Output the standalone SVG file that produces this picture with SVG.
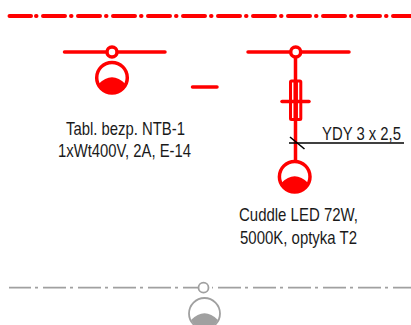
<svg xmlns="http://www.w3.org/2000/svg" width="411" height="325" viewBox="0 0 411 325">
<style>
.r{stroke:#f00;stroke-width:3.5;fill:none;stroke-linecap:round}
.top{stroke-width:4}
.g{stroke:#a0a0a0;stroke-width:1.8;fill:none}
.t{font-family:"Liberation Sans",Arial,sans-serif;font-size:18.5px;fill:#1a1a1a;text-anchor:start}
</style>
<rect width="411" height="325" fill="#fff"/>
<g id="connectors">
<path id="top-line" class="r top" d="M9.500 16H31M36 16H36.500M43 16H65M71 16H71.500M78 16H100M106 16H106.500M113 16H135M141 16H141.500M148 16H170M176 16H176.500M183 16H205M211 16H211.500M218 16H240M246 16H246.500M253 16H275M281 16H281.500M288 16H310M316 16H316.500M323 16H345M351 16H351.500M358 16H380M386 16H386.500M393 16H413"/>
<path id="bottom-line" class="g" d="M9 287.700H31M35 287.700H38M43 287.700H66M70 287.700H73M78 287.700H101M105 287.700H108M113 287.700H136M140 287.700H143M148 287.700H171M175 287.700H178M183 287.700H198M212 287.700H213M218 287.700H241M245 287.700H248M253 287.700H276M280 287.700H283M288 287.700H311M315 287.700H318M323 287.700H346M350 287.700H353M358 287.700H381M385 287.700H388M393 287.700H411"/>
<path class="r" d="M64.500 52H165"/>
<path class="r" d="M248 52H349"/>
<path class="r" stroke-linecap="butt" d="M295.500 52V161"/>
<path class="r" d="M192.500 87H217"/>
<path d="M289 143H404" stroke="#000" stroke-width="1.600" fill="none"/>
<path d="M290 137L304.500 149" stroke="#000" stroke-width="1.600" fill="none"/>
</g>
<g id="node-left">
<circle cx="112" cy="52" r="5" fill="#fff" stroke="#f00" stroke-width="3.500"/>
<circle cx="112" cy="77.700" r="15.300" fill="#fff" stroke="#f00" stroke-width="3.500"/>
<path d="M98.500 84Q112 70.500 125.500 84A15.300 15.300 0 0 1 98.500 84Z" fill="#f00"/>
<text class="t" x="66" y="135" textLength="119" lengthAdjust="spacingAndGlyphs">Tabl. bezp. NTB-1</text>
<text class="t" x="58" y="157" textLength="133" lengthAdjust="spacingAndGlyphs">1xWt400V, 2A, E-14</text>
</g>
<g id="node-right">
<circle cx="295.700" cy="52" r="5" fill="#fff" stroke="#f00" stroke-width="3.500"/>
<rect x="290.500" y="81" width="10.300" height="38.500" rx="1" fill="#fff" stroke="#f00" stroke-width="3"/>
<path d="M295.700 80V120" stroke="#f00" stroke-width="4.500"/>
<path class="r" d="M282 101.500H309"/>
<circle cx="294.700" cy="176.700" r="15.300" fill="#fff" stroke="#f00" stroke-width="3.500"/>
<path d="M281.200 183Q294.700 169.500 308.200 183A15.300 15.300 0 0 1 281.200 183Z" fill="#f00"/>
<text class="t" x="239" y="220.700" textLength="119" lengthAdjust="spacingAndGlyphs">Cuddle LED 72W,</text>
<text class="t" x="240" y="244" textLength="117" lengthAdjust="spacingAndGlyphs">5000K, optyka T2</text>
<text class="t" x="322" y="139.500" textLength="79" lengthAdjust="spacingAndGlyphs">YDY 3 x 2,5</text>
</g>
<g id="node-gray">
<circle cx="203.500" cy="287.700" r="5" fill="#fff" stroke="#a0a0a0" stroke-width="1.800"/>
<circle cx="204.500" cy="313.500" r="15.500" fill="#fff" stroke="#a0a0a0" stroke-width="1.800"/>
<path d="M191 320Q204.500 306.500 218 320A15.500 15.500 0 0 1 191 320Z" fill="#a0a0a0"/>
</g>
</svg>
